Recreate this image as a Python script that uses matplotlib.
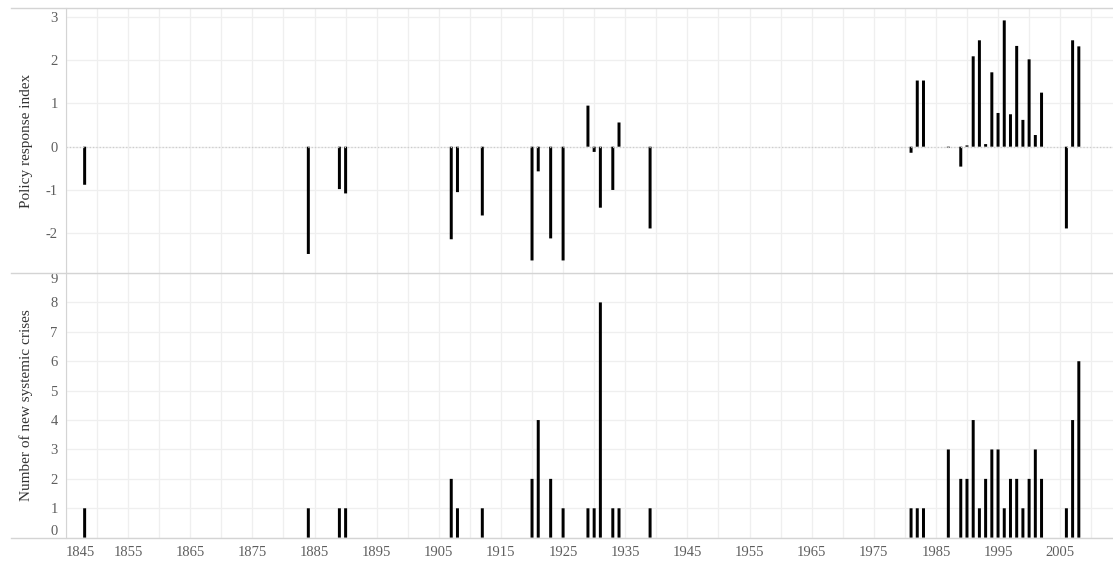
import matplotlib
matplotlib.use("Agg")
import matplotlib.pyplot as plt
from matplotlib.lines import Line2D

plt.rcParams['font.family'] = ['Liberation Serif', 'DejaVu Serif']

# crisis years (shared by both panels)
years = [1848, 1884, 1889, 1890, 1907, 1908, 1912, 1920, 1921, 1923, 1925,
         1929, 1930, 1931, 1933, 1934, 1939, 1981, 1982, 1983, 1987, 1989,
         1990, 1991, 1992, 1993, 1994, 1995, 1996, 1997, 1998, 1999, 2000,
         2001, 2002, 2006, 2007, 2008]

policy_index = [-0.88, -2.48, -0.98, -1.08, -2.14, -1.05, -1.59, -2.63, -0.57,
                -2.12, -2.63, 0.95, -0.12, -1.41, -1.0, 0.56, -1.89, -0.14,
                1.53, 1.53, -0.02, -0.46, 0.03, 2.09, 2.46, 0.06, 1.72, 0.78,
                2.92, 0.75, 2.33, 0.62, 2.02, 0.27, 1.25, -1.89, 2.46, 2.32]

new_crises = [1, 1, 1, 1, 2, 1, 1, 2, 4, 2, 1, 1, 1, 8, 1, 1, 1, 1, 1, 1, 3,
              2, 2, 4, 1, 2, 3, 3, 1, 2, 2, 1, 2, 3, 2, 1, 4, 6]

xtick_years = list(range(1845, 2006, 10))
top_ticks = [-2, -1, 0, 1, 2, 3]
bottom_ticks = list(range(0, 10))

W, H = 1113, 565
fig = plt.figure(figsize=(W / 100, H / 100), dpi=100)
left = 66 / W
width = 1 - left
ax1 = fig.add_axes([left, 1 - 273 / H, width, (273 - 8.3) / H])
ax2 = fig.add_axes([left, 1 - 537.7 / H, width, (537.7 - 273) / H])

grid_col = '#efefef'
line_col = '#d4d4d4'
tick_col = '#5e5e5e'

for ax in (ax1, ax2):
    ax.set_xlim(1845, 2013.5)
    for s in ('top', 'right', 'bottom'):
        ax.spines[s].set_visible(False)
    ax.spines['left'].set_color(line_col)
    ax.set_xticks(range(1845, 2014, 5))
    ax.grid(True, color=grid_col, linewidth=0.9)
    ax.set_axisbelow(True)
    ax.tick_params(length=0, colors=tick_col, labelsize=10.5, pad=6)

# top panel
ax1.bar(years, policy_index, width=0.48, color='black', snap=False)
ax1.axhline(0, color='#cccccc', linestyle=':', linewidth=0.9)
ax1.set_ylim(-2.92, 3.2)
ax1.set_yticks(top_ticks)
ax1.set_yticklabels([str(t) for t in top_ticks])
ax1.set_xticklabels([])
ax1.set_ylabel('Policy response index', fontsize=11, color='#333333')

# bottom panel
ax2.bar(years, new_crises, width=0.48, color='black', snap=False)
ax2.set_ylim(0, 9)
ax2.set_yticks(bottom_ticks)
ax2.set_yticklabels([str(t) for t in bottom_ticks])
ax2.get_yticklabels()[0].set_va('bottom')
ax2.get_yticklabels()[-1].set_va('top')
ax2.set_xticks(range(1845, 2014, 5))
ax2.set_xticklabels([str(y) if y in xtick_years else '' for y in range(1845, 2014, 5)])
ax2.get_xticklabels()[0].set_ha('left')
ax2.set_ylabel('Number of new systemic crises', fontsize=11, color='#333333')

# y labels centred about 25 px from the left edge of the figure
for ax in (ax1, ax2):
    ax.yaxis.set_label_coords(-33 / (W * width), 0.5)

# header / divider lines spanning the whole width
for ypx in (8.3, 273, 537.7):
    fig.add_artist(Line2D([11 / W, 1], [1 - ypx / H, 1 - ypx / H],
                          color=line_col, linewidth=1.0))

fig.savefig('out.png', dpi=100)
